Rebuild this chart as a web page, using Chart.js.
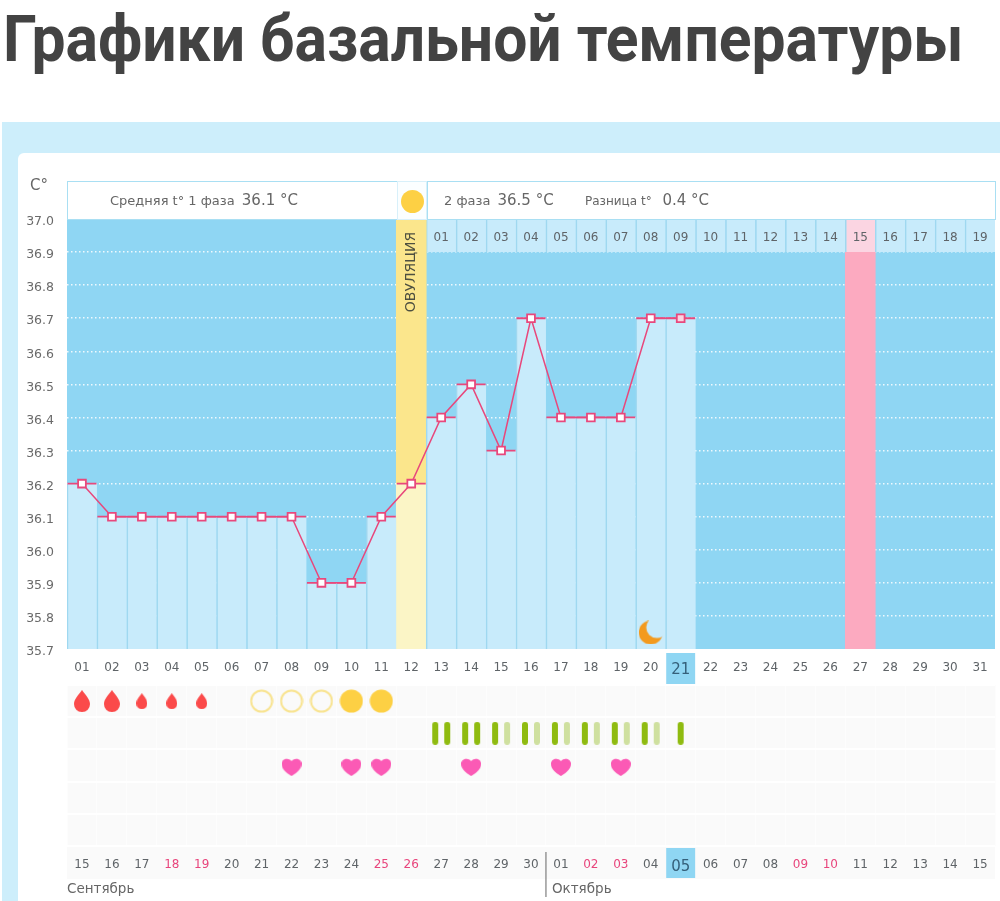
<!DOCTYPE html>
<html lang="ru">
<head>
<meta charset="utf-8">
<title>Графики базальной температуры</title>
<script src="https://cdn.jsdelivr.net/npm/chart.js@4/dist/chart.umd.min.js"></script>
<style>
  html, body { margin: 0; padding: 0; background: #fff; }
  body { position: relative; width: 1000px; height: 901px; overflow: hidden; font-family: "DejaVu Sans", sans-serif; }
  h1 { position: absolute; left: 3px; top: -4px; margin: 0; font: 700 64px/87px Roboto, sans-serif; color: #434343; white-space: nowrap; transform: scaleX(0.947); transform-origin: left top; }
  #panel { position: absolute; left: 2px; top: 122px; width: 998px; height: 779px; background: #cdeefb; }
  #inner { position: absolute; left: 18px; top: 153px; width: 982px; height: 748px; background: #fff; border-top-left-radius: 6px; }
  canvas { position: absolute; left: 0; }
  #tempChart { top: 0; }
  #symbolChart { top: 684px; }
  .head { position: absolute; top: 181px; height: 37px; background: #fff; border: 1px solid #a9dff3; box-sizing: content-box; }
  .label { position: absolute; top: 190px; font-size: 13px; line-height: 20px; color: #666; white-space: nowrap; }
  .label b { font-weight: 400; font-size: 15px; margin-left: 3px; }
  #unit { position: absolute; left: 30px; top: 175px; font-size: 15px; line-height: 20px; color: #666; }
  #sun { position: absolute; left: 401px; top: 190px; width: 23px; height: 23px; border-radius: 50%; background: #fdd044; }
</style>
</head>
<body>
<h1>Графики базальной температуры</h1>
<div id="panel"></div>
<div id="inner"></div>
<canvas id="tempChart" width="1000" height="684"></canvas>
<canvas id="symbolChart" width="1000" height="217"></canvas>
<div class="head" style="left:67px;width:329px"></div>
<div class="head" style="left:397px;width:28px;border-color:#d8f0fa;background:#fbfeff"></div>
<div class="head" style="left:427px;width:567px"></div>
<div id="unit">C°</div>
<div id="sun"></div>
<div class="label" style="left:110px">Средняя t° 1 фаза <b>36.1 °C</b></div>
<div class="label" style="left:444px">2 фаза <b>36.5 °C</b></div>
<div class="label" style="left:585px;font-size:12px">Разница t° <b style="margin-left:7px">0.4 °C</b></div>
<script>
const days = ['01','02','03','04','05','06','07','08','09','10','11','12','13','14','15','16','17','18','19','20','21','22','23','24','25','26','27','28','29','30','31']
const dates = ['15','16','17','18','19','20','21','22','23','24','25','26','27','28','29','30','01','02','03','04','05','06','07','08','09','10','11','12','13','14','15']
const redDates = [3, 4, 10, 11, 17, 18, 24, 25]
const temps = [36.2,36.1,36.1,36.1,36.1,36.1,36.1,36.1,35.9,35.9,36.1,36.2,36.4,36.5,36.3,36.7,36.4,36.4,36.4,36.7,36.7]
const cycleDays = ['01','02','03','04','05','06','07','08','09','10','11','12','13','14','15','16','17','18','19']
const ovulationDay = '12'
const markedDay = '27'
const todayDay = '21'
const moonDay = '20'

// symbol rows, days given as labels of the chart
const bloodBig = ['01','02']
const bloodSmall = ['03','04','05']
const ringDays = ['07','08','09']
const sunDays = ['10','11']
const pairDark = ['13','14']
const pairMixed = ['15','16','17','18','19','20']
const singleDark = ['21']
const heartDays = ['08','10','11','14','17','19']

const TMIN = 35.7, TMAX = 37.0
const PINK = '#e8487c', DEEP = '#8fd6f3', LIGHT = '#c8ebfb', SEP = '#9fd8f0'
const TICK = '#5f6468'

function icon(w, h, draw) {
  const c = document.createElement('canvas')
  c.width = w
  c.height = h
  draw(c.getContext('2d'), w, h)
  return c
}

function drop(w, h) {
  return icon(w, h, (g) => {
    const r = w / 2
    g.fillStyle = '#fb4a4a'
    g.beginPath()
    g.moveTo(r, 0)
    g.bezierCurveTo(r + r * 0.5, h * 0.25, w, h * 0.42, w, h - r)
    g.arc(r, h - r, r, 0, Math.PI)
    g.bezierCurveTo(0, h * 0.42, r - r * 0.5, h * 0.25, r, 0)
    g.fill()
  })
}

function ring(fill) {
  return icon(24, 24, (g) => {
    g.beginPath()
    if (fill) {
      g.arc(12, 12, 11.5, 0, Math.PI * 2)
      g.fillStyle = '#fdd044'
      g.fill()
    } else {
      g.arc(12, 12, 10.5, 0, Math.PI * 2)
      g.lineWidth = 2
      g.strokeStyle = '#f8e38f'
      g.stroke()
    }
  })
}

function sticks(colors) {
  return icon(20, 23, (g) => {
    const xs = colors.length === 2 ? [1, 13] : [7]
    colors.forEach((col, i) => {
      g.fillStyle = col
      g.beginPath()
      g.roundRect(xs[i], 0, 6, 23, 3)
      g.fill()
    })
  })
}

const heart = icon(20, 18, (g) => {
  g.fillStyle = '#fb5ab5'
  g.beginPath()
  g.moveTo(10, 18)
  g.bezierCurveTo(4, 14, 0, 11, 0, 5.5)
  g.bezierCurveTo(0, 1, 6.5, -1.5, 10, 3)
  g.bezierCurveTo(13.5, -1.5, 20, 1, 20, 5.5)
  g.bezierCurveTo(20, 11, 16, 14, 10, 18)
  g.fill()
})

const moon = icon(24, 24, (g) => {
  g.fillStyle = '#f39a1e'
  g.beginPath()
  g.arc(12, 12, 12, 0, Math.PI * 2)
  g.fill()
  g.globalCompositeOperation = 'destination-out'
  g.beginPath()
  g.arc(18, 7, 10.5, 0, Math.PI * 2)
  g.fill()
})

const tempBackground = {
  id: 'tempBackground',
  beforeDraw(chart) {
    const { ctx, chartArea: a, scales: { x } } = chart
    ctx.save()
    ctx.fillStyle = DEEP
    ctx.fillRect(a.left, a.top, a.width, a.height)
    const w = x.getPixelForValue(1) - x.getPixelForValue(0)
    ctx.fillRect(x.getPixelForValue(days.indexOf(todayDay)) - w / 2 + 0.5, a.bottom + 4, w - 1, 32)
    ctx.restore()
  },
  afterDatasetsDraw(chart) {
    const { ctx, scales: { x, y } } = chart
    ctx.save()
    ctx.fillStyle = TICK
    ctx.font = '12px "DejaVu Sans"'
    ctx.textAlign = 'center'
    ctx.textBaseline = 'middle'
    const start = days.indexOf(ovulationDay) + 1
    cycleDays.forEach((d, i) => {
      ctx.fillText(d, x.getPixelForValue(start + i), y.getPixelForValue(36.95) + 2)
    })
    ctx.translate(x.getPixelForValue(days.indexOf(ovulationDay)), y.getPixelForValue(36.84))
    ctx.rotate(-Math.PI / 2)
    ctx.fillStyle = '#4e5040'
    ctx.font = '14px "DejaVu Sans"'
    ctx.fillText('ОВУЛЯЦИЯ', 0, 0)
    ctx.restore()
  }
}

new Chart(document.getElementById('tempChart'), {
  data: {
    labels: days,
    datasets: [
      {
        type: 'line',
        data: temps,
        order: 1,
        borderColor: PINK,
        borderWidth: 1.5,
        tension: 0,
        pointStyle: 'rect',
        pointRadius: 5.5,
        pointBorderWidth: 1.8,
        pointBorderColor: PINK,
        pointBackgroundColor: temps.map((t, i) => days[i] === todayDay ? '#fbd3e0' : '#fff')
      },
      {
        type: 'line',
        data: temps,
        order: 2,
        showLine: false,
        pointStyle: 'line',
        pointRadius: 14.5,
        pointBorderWidth: 1.8,
        pointBorderColor: PINK
      },
      {
        type: 'line',
        data: days.map((d) => d === moonDay ? 35.75 : null),
        order: 2,
        showLine: false,
        pointStyle: moon
      },
      {
        // days below the curve
        type: 'bar',
        data: days.map((d, i) => temps[i] !== undefined && d !== ovulationDay ? [TMIN, temps[i]] : null),
        order: 5,
        backgroundColor: LIGHT,
        borderColor: SEP,
        borderWidth: { left: 1.5, right: 0, top: 0, bottom: 0 },
        borderSkipped: false
      },
      {
        type: 'bar',
        data: days.map((d, i) => d === ovulationDay ? [TMIN, temps[i]] : null),
        order: 5,
        backgroundColor: '#fbf5c6'
      },
      {
        type: 'bar',
        data: days.map((d, i) => d === ovulationDay ? [temps[i], TMAX] : null),
        order: 5,
        backgroundColor: '#fbe68c'
      },
      {
        // cycle day cells along the top
        type: 'bar',
        data: days.map((d, i) => i > days.indexOf(ovulationDay) && i < days.indexOf(ovulationDay) + 1 + cycleDays.length ? [36.9, TMAX] : null),
        order: 5,
        backgroundColor: days.map((d) => d === markedDay ? '#fbd5e2' : LIGHT),
        borderColor: SEP,
        borderWidth: { left: 1.5, right: 0, top: 0, bottom: 0 },
        borderSkipped: false
      },
      {
        type: 'bar',
        data: days.map((d) => d === markedDay ? [TMIN, 36.9] : null),
        order: 5,
        backgroundColor: '#fcaac0'
      }
    ]
  },
  options: {
    responsive: false,
    animation: false,
    layout: { autoPadding: false, padding: { top: 219, right: 5 } },
    datasets: { bar: { barPercentage: 1, categoryPercentage: 1, grouped: false } },
    plugins: { legend: { display: false }, tooltip: { enabled: false } },
    scales: {
      x: {
        afterFit(scale) { scale.height = 35 },
        border: { display: false },
        grid: { display: false, drawTicks: false },
        ticks: {
          autoSkip: false,
          maxRotation: 0,
          padding: 12,
          color: (c) => days[c.index] === todayDay ? '#35607a' : TICK,
          font: (c) => ({ family: '"DejaVu Sans"', size: days[c.index] === todayDay ? 15 : 12 })
        }
      },
      y: {
        min: TMIN,
        max: TMAX,
        afterFit(scale) { scale.width = 67 },
        afterBuildTicks(scale) {
          scale.ticks = scale.ticks.map((t) => ({ value: Math.round(t.value * 10) / 10 }))
        },
        border: { display: false, dash: [1.5, 2.5] },
        grid: {
          drawTicks: false,
          color: 'rgba(255,255,255,0.85)',
          lineWidth: (c) => c.tick.value === TMIN || c.tick.value === TMAX ? 0 : 1.5
        },
        ticks: {
          stepSize: 0.1,
          padding: 13,
          labelOffset: 3,
          color: '#6a6a6a',
          font: { family: '"DejaVu Sans"', size: 12.5 },
          callback: (v) => Number(v).toFixed(1)
        }
      }
    }
  },
  plugins: [tempBackground]
})

const symbolBackground = {
  id: 'symbolBackground',
  beforeDraw(chart) {
    const { ctx, chartArea: a, scales: { x } } = chart
    ctx.save()
    ctx.fillStyle = '#fafafa'
    ctx.fillRect(a.left, a.top, a.width, a.height + 33)
    const w = x.getPixelForValue(1) - x.getPixelForValue(0)
    ctx.fillStyle = DEEP
    ctx.fillRect(x.getPixelForValue(days.indexOf(todayDay)) - w / 2 + 0.5, a.bottom + 2, w - 1, 30)
    ctx.restore()
  },
  afterDraw(chart) {
    const { ctx, chartArea: a, scales: { x } } = chart
    const octIdx = dates.indexOf('01')
    const sepX = x.getPixelForValue(octIdx) - (x.getPixelForValue(1) - x.getPixelForValue(0)) / 2
    ctx.save()
    ctx.strokeStyle = '#666'
    ctx.lineWidth = 1
    ctx.beginPath()
    ctx.moveTo(sepX, a.bottom + 6)
    ctx.lineTo(sepX, a.bottom + 51)
    ctx.stroke()
    ctx.fillStyle = '#666'
    ctx.font = '13.5px "DejaVu Sans"'
    ctx.textBaseline = 'middle'
    ctx.fillText('Сентябрь', a.left, a.bottom + 43)
    ctx.fillText('Октябрь', sepX + 6, a.bottom + 43)
    ctx.restore()
  }
}

function row(labels, y, style) {
  return {
    type: 'line',
    showLine: false,
    pointStyle: style,
    data: labels.map((d) => ({ x: d, y: y }))
  }
}

new Chart(document.getElementById('symbolChart'), {
  data: {
    labels: days,
    datasets: [
      row(bloodBig, 0.5, drop(16, 22)),
      row(bloodSmall, 0.5, drop(11, 16)),
      row(ringDays, 0.5, ring(false)),
      row(sunDays, 0.5, ring(true)),
      row(pairDark, 1.5, sticks(['#8fbb10', '#8fbb10'])),
      row(pairMixed, 1.5, sticks(['#8fbb10', '#cfe09f'])),
      row(singleDark, 1.5, sticks(['#8fbb10'])),
      row(heartDays, 2.55, heart)
    ]
  },
  options: {
    responsive: false,
    animation: false,
    layout: { autoPadding: false, padding: { left: 67, right: 5, top: 1 } },
    plugins: { legend: { display: false }, tooltip: { enabled: false } },
    scales: {
      x: {
        offset: true,
        afterFit(scale) { scale.height = 55 },
        border: { display: false },
        grid: { color: '#fdfdfd', drawTicks: false, offset: true },
        ticks: {
          autoSkip: false,
          maxRotation: 0,
          padding: 12,
          callback: (v, i) => dates[i],
          color: (c) => days[c.index] === todayDay ? '#35607a' : redDates.includes(c.index) ? '#e8457c' : TICK,
          font: (c) => ({ family: '"DejaVu Sans"', size: days[c.index] === todayDay ? 15 : 12 })
        }
      },
      y: {
        display: true,
        min: 0,
        max: 5,
        reverse: true,
        afterFit(scale) { scale.width = 0 },
        border: { display: false },
        grid: { color: '#ffffff', lineWidth: 2, drawTicks: false },
        ticks: { display: false, stepSize: 1 }
      }
    }
  },
  plugins: [symbolBackground]
})
</script>
</body>
</html>
